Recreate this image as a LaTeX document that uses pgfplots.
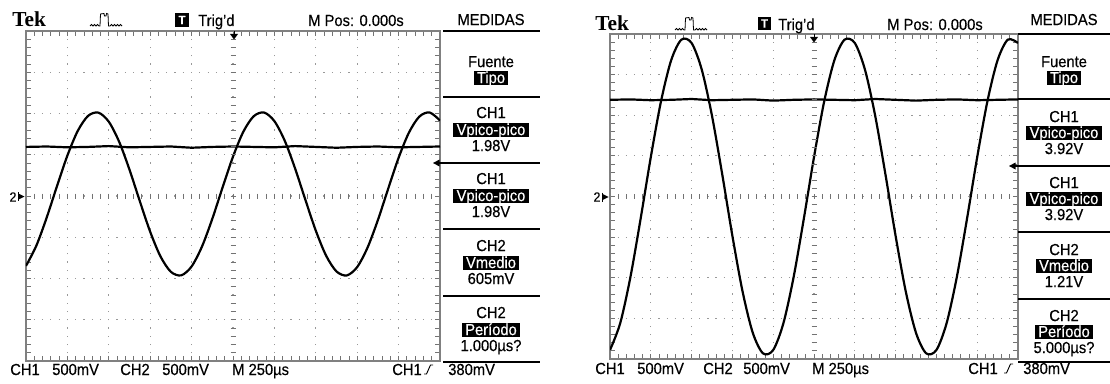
\documentclass[border=0pt]{standalone}
\usepackage{fontspec}
\setmainfont{Liberation Sans}[FakeStretch=0.92,FakeBold=0.4]
\newfontfamily\tekfont{Liberation Serif}
\usepackage{pgfplots}
\pgfplotsset{compat=1.18}
\pgfplotsset{
  osc/.style={anchor=south west, scale only axis, xmin=0, xmax=10, ymin=-4, ymax=4,
    xtick={0,...,10}, ytick={-4,...,4}, minor x tick num=4, minor y tick num=4,
    xticklabels={}, yticklabels={}, tick align=inside, xtick pos=both, ytick pos=both,
    major tick length=3.5pt, minor tick length=3.5pt,
    tick style={black!55, line width=0.6pt},
    axis line style={black!50, line width=1.1pt},
    grid=major},
  osctrace/.style={black, line width=1.65pt, no markers}
}
\tikzset{
  mt/.style={font=\fontsize{12}{14}\selectfont, inner sep=0pt, text height=8.6pt, text depth=1pt, anchor=center},
  hl/.style={mt, fill=black, text=white, inner xsep=2.5pt, inner ysep=0.6pt},
  bt/.style={font=\fontsize{12}{14}\selectfont, inner sep=0pt, anchor=base west},
  ml/.style={line width=1.1pt},
  ct/.style={black!55, line width=0.75pt}
}
\newcommand\pulse[2]{\begin{scope}[shift={(#1,#2)}]
\draw[line width=0.6pt] (0,0)--(1.5,-1.5)--(3,0)--(4.5,-1.5)--(6,0)--(7.5,-1.5)--(9,0)--(10,0)--(10.5,-12)--(14,-12.5)--(14.5,-10)--(16,-10)--(16.5,-12.5)--(18,-12)--(18.5,0)--(20,0)--(21.5,-1.5)--(23,0)--(24.5,-1.5)--(26,0)--(27.5,-1.5)--(29,0)--(30.5,-1.5)--(32,0);
\end{scope}}

\begin{document}
\begin{tikzpicture}[x=0.75pt,y=0.75pt]
\path[use as bounding box] (0,0) rectangle (1110,383);

% ---------------- left screen ----------------
\begin{axis}[osc, at={(19.5pt,16.5pt)}, width=310.5pt, height=247.5pt,
  major x grid style={black!40, line width=0.9pt, dash pattern=on 0.9pt off 5.2875pt, dash phase=0.45pt},
  major y grid style={black!40, line width=0.9pt, dash pattern=on 0.9pt off 5.31pt, dash phase=0.45pt}]
\addplot[osctrace, smooth] table {
x y
0 -1.694
0.25 -1.204
0.5 -0.523
0.75 0.244
1 0.981
1.25 1.578
1.5 1.943
1.75 2.021
2 1.801
2.25 1.315
2.5 0.638
2.75 -0.128
3 -0.868
3.25 -1.468
3.5 -1.838
3.75 -1.923
4 -1.708
4.25 -1.227
4.5 -0.553
4.75 0.213
5 0.954
5.25 1.559
5.5 1.934
5.75 2.024
6 1.815
6.25 1.339
6.5 0.667
6.75 -0.098
7 -0.840
7.25 -1.448
7.5 -1.829
7.75 -1.925
8 -1.722
8.25 -1.250
8.5 -0.582
8.75 0.182
9 0.927
9.25 1.538
9.5 1.924
9.75 2.026
10 1.829
};
\addplot[osctrace] table {
x y
0 1.19
0.5 1.20
1 1.18
1.5 1.19
2 1.21
2.5 1.18
3 1.19
3.5 1.20
4 1.17
4.5 1.19
5 1.20
5.5 1.19
6 1.18
6.5 1.21
7 1.19
7.5 1.17
8 1.19
8.5 1.20
9 1.18
9.5 1.19
10 1.20
};
\end{axis}

% ---------------- right screen ----------------
\begin{axis}[osc, at={(457.5pt,18pt)}, width=306pt, height=243.75pt,
  major x grid style={black!40, line width=0.9pt, dash pattern=on 0.9pt off 5.194pt, dash phase=0.45pt},
  major y grid style={black!40, line width=0.9pt, dash pattern=on 0.9pt off 5.22pt, dash phase=0.45pt}]
\addplot[osctrace, smooth] table {
x y
0 -3.778
0.25 -3.119
0.5 -1.985
0.75 -0.550
1 0.970
1.25 2.342
1.5 3.357
1.75 3.861
2 3.778
2.25 3.119
2.5 1.985
2.75 0.550
3 -0.970
3.25 -2.342
3.5 -3.357
3.75 -3.861
4 -3.778
4.25 -3.119
4.5 -1.985
4.75 -0.550
5 0.970
5.25 2.342
5.5 3.357
5.75 3.861
6 3.778
6.25 3.119
6.5 1.985
6.75 0.550
7 -0.970
7.25 -2.342
7.5 -3.357
7.75 -3.861
8 -3.778
8.25 -3.119
8.5 -1.985
8.75 -0.550
9 0.970
9.25 2.342
9.5 3.357
9.75 3.861
10 3.778
};
\addplot[osctrace] table {
x y
0 2.38
0.5 2.39
1 2.37
1.5 2.38
2 2.40
2.5 2.37
3 2.38
3.5 2.39
4 2.36
4.5 2.38
5 2.39
5.5 2.38
6 2.37
6.5 2.40
7 2.38
7.5 2.36
8 2.38
8.5 2.39
9 2.37
9.5 2.38
10 2.39
};
\end{axis}

\begin{scope}[shift={(0,383)}, yscale=-1]
% centre graduations
\foreach \k in {1,...,49} \draw[ct] ({26+8.28*\k},193.5) -- ++(0,5);
\foreach \k in {1,...,39} \draw[ct] (230.5,{31+8.25*\k}) -- ++(5,0);
\foreach \k in {1,...,49} \draw[ct] ({610+8.16*\k},194) -- ++(0,5);
\foreach \k in {1,...,39} \draw[ct] (811.5,{34+8.125*\k}) -- ++(5,0);

% ---- left screen annotations ----
\node[anchor=base west, inner sep=0, font=\tekfont\bfseries\fontsize{16}{16}\selectfont] at (12,27) {Tek};
\pulse{90}{26}
\fill (175,13) rectangle (189,27);
\node[text=white, inner sep=0, font=\bfseries\fontsize{9}{9}\selectfont] at (182,20) {T};
\node[bt] at (198,26) {Trig’d};
\node[bt] at (308,26) {M Pos: 0.000s};
\fill (230,34) -- (238,34) -- (234,39.5) -- cycle;
\draw[line width=0.75pt] (234,31) -- (234,34);
\fill (433,163) -- (439.5,159.5) -- (439.5,166.5) -- cycle;
\node[inner sep=0, font=\fontsize{10}{10}\selectfont] at (13,197) {2};
\fill (18.5,193.5) -- (24.5,196.5) -- (18.5,199.5) -- cycle;
\draw[line width=0.6pt] (18.5,192) -- (18.5,201);

\node[mt] at (491,20) {MEDIDAS};
\draw[ml] (443,31) -- (540,31);
\node[mt] at (491,62) {Fuente};
\node[hl] at (491,78) {Tipo};
\draw[ml] (443,97) -- (540,97);
\node[mt] at (491,113) {CH1};
\node[hl] at (491,130) {Vpico-pico};
\node[mt] at (491,146) {1.98V};
\draw[ml] (439,163) -- (540,163);
\node[mt] at (491,179) {CH1};
\node[hl] at (491,196) {Vpico-pico};
\node[mt] at (491,212) {1.98V};
\draw[ml] (443,229) -- (540,229);
\node[mt] at (491,246) {CH2};
\node[hl] at (491,263) {Vmedio};
\node[mt] at (491,279) {605mV};
\draw[ml] (443,296) -- (540,296);
\node[mt] at (491,313) {CH2};
\node[hl] at (491,330) {Período};
\node[mt] at (491,346) {1.000µs?};
\draw[ml] (443,362) -- (540,362);

\node[bt] at (10,375) {CH1};
\node[bt] at (52,375) {500mV};
\node[bt] at (120,375) {CH2};
\node[bt] at (162,375) {500mV};
\node[bt] at (232,375) {M 250µs};
\node[bt] at (392,375) {CH1};
\draw[line width=0.7pt] (424,374) -- (426.5,374) -- (430.5,365) -- (433,365);
\node[bt] at (448,375) {380mV};

% ---- right screen annotations ----
\node[anchor=base west, inner sep=0, font=\tekfont\bfseries\fontsize{16}{16}\selectfont] at (595,31) {Tek};
\pulse{675}{30}
\fill (758,17) rectangle (771,30);
\node[text=white, inner sep=0, font=\bfseries\fontsize{9}{9}\selectfont] at (764.5,23.5) {T};
\node[bt] at (778,30) {Trig’d};
\node[bt] at (887,30) {M Pos: 0.000s};
\fill (810,37) -- (818,37) -- (814,42.5) -- cycle;
\draw[line width=0.75pt] (814,34) -- (814,37);
\fill (1009,166) -- (1015.5,162.5) -- (1015.5,169.5) -- cycle;
\node[inner sep=0, font=\fontsize{10}{10}\selectfont] at (597,197) {2};
\fill (602.5,194) -- (608.5,197) -- (602.5,200) -- cycle;
\draw[line width=0.6pt] (602.5,192.5) -- (602.5,201.5);

\node[mt] at (1064,20) {MEDIDAS};
\draw[ml] (1018,34) -- (1110,34);
\node[mt] at (1064,62) {Fuente};
\node[hl] at (1064,78) {Tipo};
\draw[ml] (1018,99) -- (1110,99);
\node[mt] at (1064,117) {CH1};
\node[hl] at (1064,133) {Vpico-pico};
\node[mt] at (1064,149) {3.92V};
\draw[ml] (1015,166) -- (1110,166);
\node[mt] at (1064,183) {CH1};
\node[hl] at (1064,199) {Vpico-pico};
\node[mt] at (1064,215) {3.92V};
\draw[ml] (1018,232) -- (1110,232);
\node[mt] at (1064,250) {CH2};
\node[hl] at (1064,266) {Vmedio};
\node[mt] at (1064,282) {1.21V};
\draw[ml] (1018,299) -- (1110,299);
\node[mt] at (1064,316) {CH2};
\node[hl] at (1064,332) {Período};
\node[mt] at (1064,348) {5.000µs?};
\draw[ml] (1018,362) -- (1110,362);

\node[bt] at (595,374) {CH1};
\node[bt] at (637,374) {500mV};
\node[bt] at (703,374) {CH2};
\node[bt] at (743,374) {500mV};
\node[bt] at (812,374) {M 250µs};
\node[bt] at (968,374) {CH1};
\draw[line width=0.7pt] (1004,373) -- (1006.5,373) -- (1010.5,364) -- (1013,364);
\node[bt] at (1023,374) {380mV};
\end{scope}
\end{tikzpicture}
\end{document}
